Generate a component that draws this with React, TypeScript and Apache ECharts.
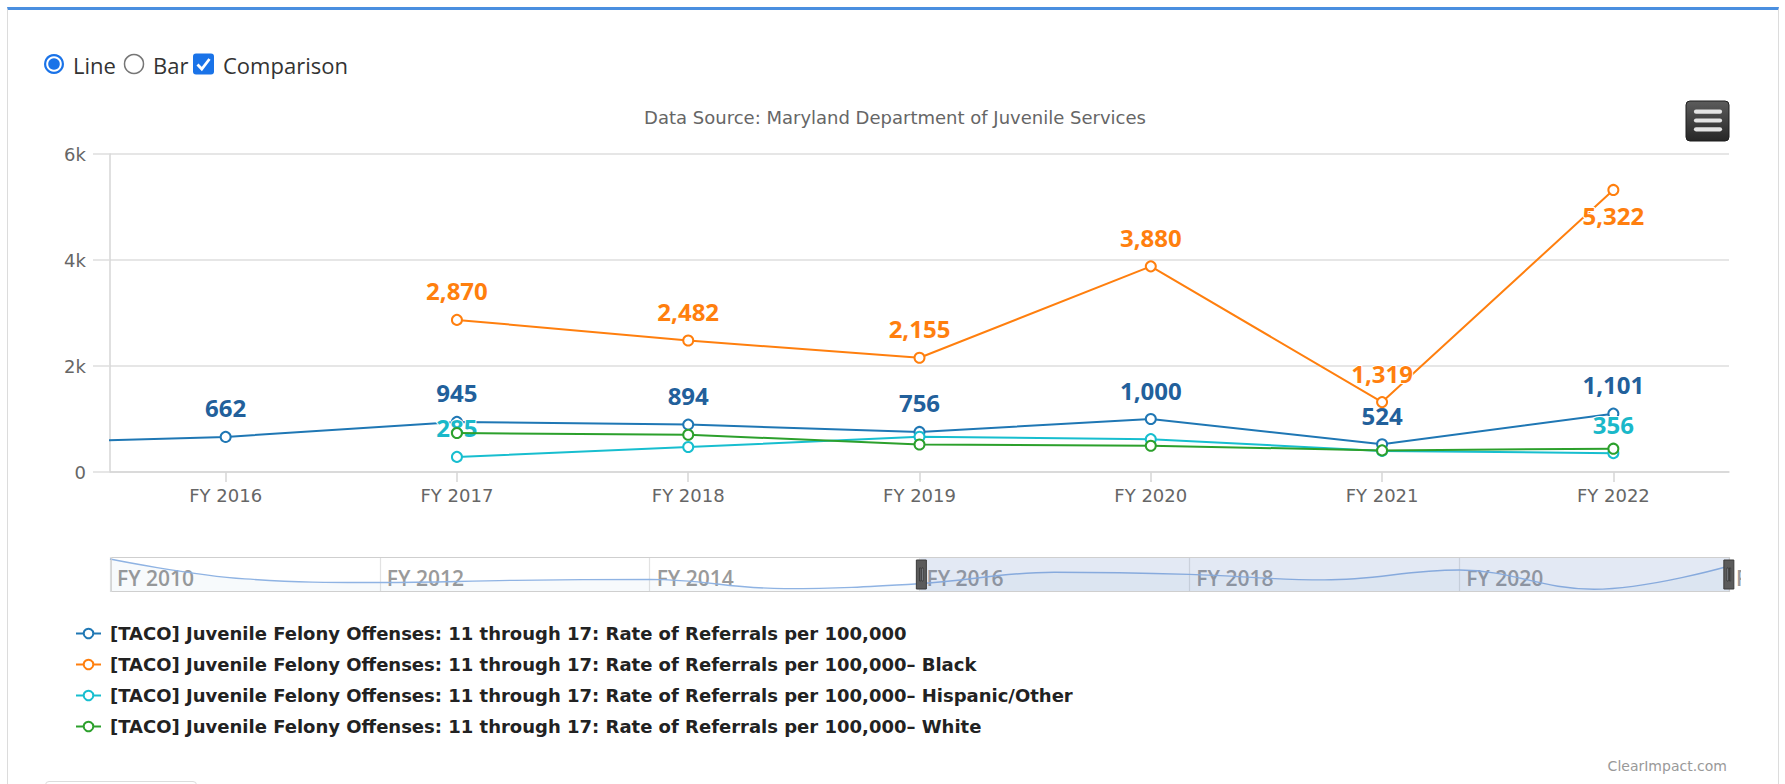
import React, { useEffect, useRef } from 'react';
import * as echarts from 'echarts';

// ---------- data ----------
const years = ['FY 2010', 'FY 2011', 'FY 2012', 'FY 2013', 'FY 2014', 'FY 2015', 'FY 2016', 'FY 2017', 'FY 2018', 'FY 2019', 'FY 2020', 'FY 2021', 'FY 2022'];
const totalRate = [1274, 780, 690, 745, 770, 540, 662, 945, 894, 756, 1000, 524, 1101];
const blackRate = [null, null, null, null, null, null, null, 2870, 2482, 2155, 3880, 1319, 5322];
const hispanicRate = [null, null, null, null, null, null, null, 285, 471, 665, 620, 398, 356];
const whiteRate = [null, null, null, null, null, null, null, 735, 703, 520, 496, 408, 440];

const seriesNames = [
  '[TACO] Juvenile Felony Offenses: 11 through 17: Rate of Referrals per 100,000',
  '[TACO] Juvenile Felony Offenses: 11 through 17: Rate of Referrals per 100,000\u2013 Black',
  '[TACO] Juvenile Felony Offenses: 11 through 17: Rate of Referrals per 100,000\u2013 Hispanic/Other',
  '[TACO] Juvenile Felony Offenses: 11 through 17: Rate of Referrals per 100,000\u2013 White',
];
const seriesColors = ['#1f77b4', '#ff7f0e', '#17becf', '#2ca02c'];
const labelColors = ['#22609b', '#ff7f0e', '#1ab8c9', '#2ca02c'];
const labelledYears = [years, years, ['FY 2017', 'FY 2022'], []];

const yMin = 0;
const yMax = 6000;
const yStep = 2000;
const viewStart = 'FY 2016';
const viewEnd = 'FY 2022';
const navYears = years;

const titleText = 'Data Source: Maryland Department of Juvenile Services';
const creditText = 'ClearImpact.com';
const controlLabels = ['Line', 'Bar', 'Comparison'];

const HC_FONT = '"DejaVu Sans", sans-serif';

function fmt(v: number) {
  return Number(v).toLocaleString('en-US');
}

export default function App() {
  const ref = useRef<HTMLDivElement>(null);

  useEffect(() => {
    if (!ref.current) return;
    const chart = echarts.init(ref.current, null, { renderer: 'svg' });

    const allValues = [totalRate, blackRate, hispanicRate, whiteRate];

    const mainSeries = allValues.map((vals, si) => ({
      name: seriesNames[si],
      type: 'line',
      xAxisIndex: 0,
      yAxisIndex: 0,
      clip: true,
      symbol: 'emptyCircle',
      symbolSize: 10,
      showAllSymbol: true,
      connectNulls: false,
      lineStyle: { color: seriesColors[si], width: 2 },
      itemStyle: { color: seriesColors[si], borderColor: seriesColors[si], borderWidth: 2 },
      label: {
        show: false,
        position: 'top',
        distance: 11,
        color: labelColors[si],
        fontFamily: '"Open Sans", sans-serif',
        fontWeight: 'bold',
        fontSize: 24,
        textBorderColor: '#ffffff',
        textBorderWidth: 2,
        formatter: (p: any) => fmt(p.value),
      },
      data: vals.map((v, i) => {
        if (v == null) return null;
        const show = labelledYears[si].includes(years[i]);
        const flip = v > yMax * 0.85;
        return {
          value: v,
          label: { show, position: flip ? 'bottom' : 'top', distance: flip ? 8 : 11 },
        };
      }),
      z: 3 + si,
    }));

    const navSeries = {
      name: 'navigator',
      type: 'line',
      xAxisIndex: 1,
      yAxisIndex: 1,
      smooth: 0.4,
      symbol: 'none',
      silent: true,
      lineStyle: { color: '#8fb3e3', width: 1.4 },
      areaStyle: { color: 'rgba(31,119,180,0.05)', origin: 'start' },
      data: totalRate,
      z: 1,
    };

    const option: any = {
      animation: false,
      backgroundColor: 'transparent',
      grid: [
        { left: 110, top: 154, width: 1619, height: 318, containLabel: false, outerBoundsMode: 'none' },
        { left: 110, top: 557, width: 1619, height: 35, containLabel: false, outerBoundsMode: 'none' },
      ],
      xAxis: [
        {
          type: 'category',
          gridIndex: 0,
          data: years,
          boundaryGap: true,
          axisLine: { show: true, lineStyle: { color: '#d6d6d6', width: 1.5 } },
          axisTick: { show: true, alignWithLabel: true, length: 10, lineStyle: { color: '#d6d6d6', width: 1.5 } },
          axisLabel: { interval: 0, margin: 14, color: '#666', fontSize: 18, fontFamily: HC_FONT },
          splitLine: { show: false },
        },
        {
          type: 'category',
          gridIndex: 1,
          data: navYears,
          boundaryGap: false,
          axisLine: { show: false },
          axisTick: { show: false },
          axisLabel: {
            inside: true,
            interval: 1,
            align: 'left',
            margin: 4,
            padding: [0, 0, 0, 7],
            color: '#9a9a9a',
            fontSize: 21,
            fontWeight: 600,
            fontFamily: '"Open Sans", sans-serif',
          },
          splitLine: { show: true, interval: 1, lineStyle: { color: '#e2e2e2', width: 1.2 } },
        },
      ],
      yAxis: [
        {
          type: 'value',
          gridIndex: 0,
          min: yMin,
          max: yMax,
          interval: yStep,
          axisLine: { show: true, lineStyle: { color: '#d6d6d6', width: 1.5 } },
          axisTick: { show: true, length: 17, lineStyle: { color: '#dedede', width: 1.5 } },
          axisLabel: {
            margin: 24,
            color: '#666',
            fontSize: 18,
            fontFamily: HC_FONT,
            formatter: (v: number) => (v === 0 ? '0' : `${v / 1000}k`),
          },
          splitLine: { show: true, lineStyle: { color: '#dedede', width: 1.5 } },
        },
        {
          type: 'value',
          gridIndex: 1,
          min: 455,
          max: 1325,
          show: false,
          splitLine: { show: false },
        },
      ],
      dataZoom: [
        {
          type: 'slider',
          xAxisIndex: 0,
          filterMode: 'none',
          startValue: years.indexOf(viewStart),
          endValue: years.indexOf(viewEnd),
          left: 110,
          width: 1619,
          top: 557,
          height: 35,
          showDetail: false,
          showDataShadow: false,
          brushSelect: false,
          moveHandleSize: 0,
          backgroundColor: 'transparent',
          borderColor: '#cfcfcf',
          borderRadius: 0,
          fillerColor: 'rgba(102,133,194,0.18)',
          handleIcon:
            'path://M0,0 L10,0 L10,29 L0,29 Z M3.2,8 L3.2,21 L4.4,21 L4.4,8 Z M5.6,8 L5.6,21 L6.8,21 L6.8,8 Z',
          handleSize: 29,
          handleStyle: { color: '#5b5b5b', borderColor: '#3a3a3a', borderWidth: 1 },
          textStyle: { color: 'transparent' },
        },
      ],
      legend: {
        orient: 'vertical',
        left: 70,
        top: 618,
        itemWidth: 25,
        itemHeight: 12,
        itemGap: 10,
        data: seriesNames,
        selectedMode: false,
        textStyle: {
          color: '#222',
          fontSize: 18,
          fontWeight: 'bold',
          fontFamily: HC_FONT,
          lineHeight: 21,
          padding: [0, 0, 0, 4],
        },
      },
      graphic: [
        // control row
        { type: 'circle', shape: { cx: 54, cy: 64, r: 10 }, style: { fill: '#1a73e8' } },
        { type: 'circle', shape: { cx: 54, cy: 64, r: 7.8 }, style: { fill: '#ffffff' } },
        { type: 'circle', shape: { cx: 54, cy: 64, r: 5.8 }, style: { fill: '#1a73e8' } },
        {
          type: 'text', x: 73, y: 65,
          style: { text: controlLabels[0], font: '22px "Open Sans", sans-serif', fill: '#333', verticalAlign: 'middle' },
        },
        { type: 'circle', shape: { cx: 134, cy: 64, r: 9.5 }, style: { fill: '#fff', stroke: '#767676', lineWidth: 1.5 } },
        {
          type: 'text', x: 153, y: 65,
          style: { text: controlLabels[1], font: '22px "Open Sans", sans-serif', fill: '#333', verticalAlign: 'middle' },
        },
        { type: 'rect', shape: { x: 193, y: 53.5, width: 21, height: 21, r: 3 }, style: { fill: '#1a73e8' } },
        {
          type: 'polyline',
          shape: { points: [[197.5, 64.5], [201.8, 69], [209.5, 59]] },
          style: { stroke: '#fff', lineWidth: 2.8, fill: 'none' },
        },
        {
          type: 'text', x: 223, y: 65,
          style: { text: controlLabels[2], font: '22px "Open Sans", sans-serif', fill: '#333', verticalAlign: 'middle' },
        },
        // title
        {
          type: 'text', x: 895, y: 117,
          style: { text: titleText, font: `18px ${HC_FONT}`, fill: '#666', align: 'center', verticalAlign: 'middle' },
        },
        // menu button
        {
          type: 'rect',
          shape: { x: 1686, y: 101, width: 43, height: 40, r: 4 },
          style: {
            fill: new echarts.graphic.LinearGradient(0, 0, 0, 1, [
              { offset: 0, color: '#5c5c5c' },
              { offset: 1, color: '#262626' },
            ]),
            stroke: '#1e1e1e',
            lineWidth: 1,
          },
        },
        { type: 'line', shape: { x1: 1696, y1: 111.7, x2: 1720, y2: 111.7 }, style: { stroke: '#e4e4e4', lineWidth: 4.2, lineCap: 'round' } },
        { type: 'line', shape: { x1: 1696, y1: 120.5, x2: 1720, y2: 120.5 }, style: { stroke: '#e4e4e4', lineWidth: 4.2, lineCap: 'round' } },
        { type: 'line', shape: { x1: 1696, y1: 129.3, x2: 1720, y2: 129.3 }, style: { stroke: '#e4e4e4', lineWidth: 4.2, lineCap: 'round' } },
        // credits
        {
          type: 'text', x: 1727, y: 766,
          style: { text: creditText, font: `14px ${HC_FONT}`, fill: '#999', align: 'right', verticalAlign: 'middle' },
        },
      ],
      series: [navSeries, ...mainSeries],
    };

    chart.setOption(option);
    return () => chart.dispose();
  }, []);

  return (
    <div style={{ position: 'absolute', left: 0, top: 0, width: 1785, height: 784, background: '#fff', overflow: 'hidden' }}>
      <div
        style={{
          position: 'absolute', left: 7, top: 7, width: 1772, height: 820, boxSizing: 'border-box',
          borderTop: '3px solid #4a8fe0', borderLeft: '1px solid #dcdcdc', borderRight: '1px solid #dcdcdc',
        }}
      />
      <div
        style={{
          position: 'absolute', left: 45, top: 781, width: 152, height: 20, boxSizing: 'border-box',
          border: '1px solid #dcdcdc', borderRadius: 4,
        }}
      />
      <div ref={ref} style={{ position: 'absolute', left: 0, top: 0, width: 1741, height: 784, overflow: 'hidden' }} />
    </div>
  );
}
